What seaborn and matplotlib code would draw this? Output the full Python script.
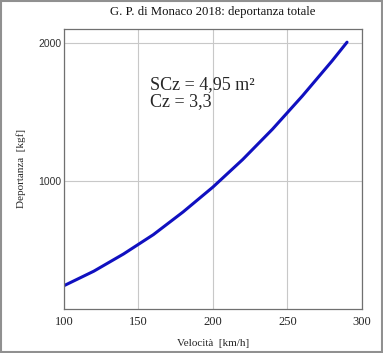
import matplotlib
matplotlib.use("Agg")
import matplotlib.pyplot as plt
import seaborn as sns
import pandas as pd

# valori
velocita = [100, 120, 140, 160, 180, 200, 220, 240, 260, 280, 290]
deportanza = [240, 345, 470, 610, 775, 955, 1155, 1375, 1615, 1870, 2005]
x_ticks = [100, 150, 200, 250, 300]
y_ticks = [1000, 2000]

df = pd.DataFrame({"v": velocita, "F": deportanza})

sns.set_style("white")
plt.rcParams["font.family"] = ["Liberation Serif", "DejaVu Serif"]

fig = plt.figure(figsize=(3.83, 3.53), dpi=100)
ax = fig.add_axes([0.167, 0.125, 0.778, 0.793])

sns.lineplot(data=df, x="v", y="F", ax=ax, color="#1010c0", linewidth=2.2)

ax.set_xlim(100, 300)
ax.set_ylim(72, 2101)
ax.set_xticks(x_ticks)
ax.set_yticks(y_ticks)
ax.grid(True, color="#c8c8c8", linewidth=0.8)
ax.set_axisbelow(True)
for s in ax.spines.values():
    s.set_color("#707070")
    s.set_linewidth(0.9)
ax.tick_params(axis="x", length=0, pad=5)
ax.tick_params(axis="y", length=0, pad=2)
for lab in ax.get_xticklabels():
    lab.set_fontsize(9)
for lab in ax.get_yticklabels():
    lab.set_fontfamily("Liberation Sans")
    lab.set_fontsize(7.5)
    lab.set_color("#333333")

ax.set_xlabel("Velocità  [km/h]", fontsize=8, labelpad=8)
ax.set_ylabel("Deportanza  [kgf]", fontsize=8, labelpad=9)
ax.set_title("G. P. di Monaco 2018: deportanza totale", fontsize=9.2,
             pad=10, color="#111111")

ax.text(0.29, 0.83, "SCz = 4,95 m²\nCz = 3,3", transform=ax.transAxes,
        fontsize=13, va="top", ha="left", linespacing=1.0)

# cornice esterna
fig.patches.append(plt.Rectangle((0.003, 0.003), 0.994, 0.994, transform=fig.transFigure,
                                 fill=False, edgecolor="#909090", linewidth=1.5))

fig.savefig("out.png", dpi=100)
